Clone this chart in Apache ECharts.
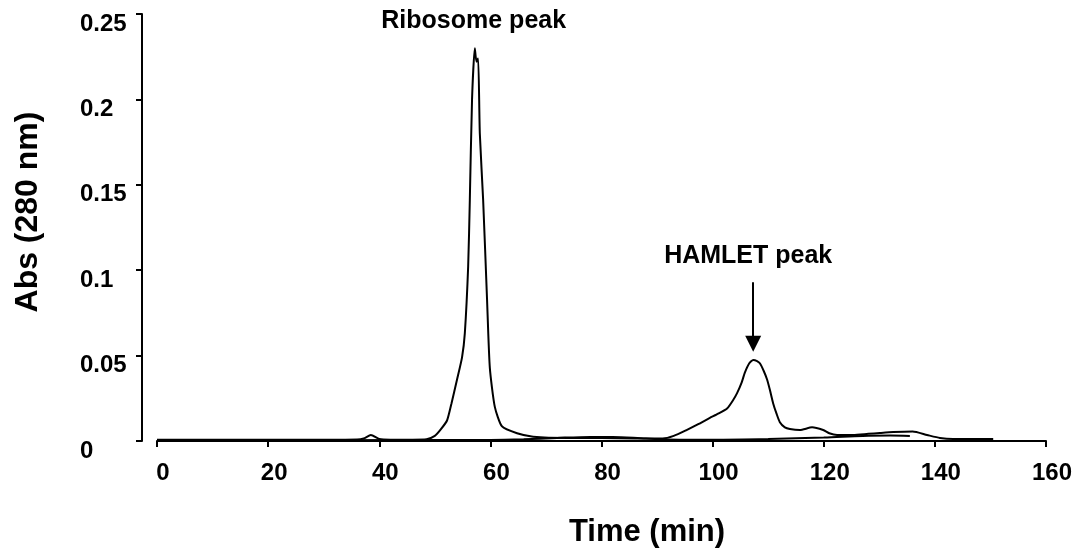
<!DOCTYPE html>
<html>
<head>
<meta charset="utf-8">
<script src="https://cdn.jsdelivr.net/npm/echarts@6/dist/echarts.min.js"></script>
<style>html,body{margin:0;padding:0;background:#fff}#c{width:1084px;height:556px}</style>
</head>
<body>
<div id="c"></div>
<script>
// Main trace (time in min, absorbance at 280 nm)
var timeA = [0,10,20,30,36,37.2,38.5,40,42,46,48.5,50,51,52.2,53,54,54.9,55.4,56,56.3,56.7,57.2,57.5,57.8,58.1,58.7,59.4,59.9,60.8,62.1,64.8,67.7,74,80,86,91,93,95.3,97.5,99.5,101,102.6,103.7,104.4,105.2,105.8,106.6,107.3,108,108.5,109.2,109.8,110.3,110.9,111.5,112.1,113,113.9,115.7,117.9,119.9,121,122.4,125.3,128,130.1,132.5,136,138.6,140.9,143.3,150.5];
var absA = [0.0008,0.0008,0.0008,0.0008,0.0009,0.0015,0.0035,0.0012,0.0008,0.0008,0.001,0.003,0.0065,0.012,0.022,0.036,0.049,0.063,0.102,0.141,0.2,0.230,0.222,0.224,0.18,0.141,0.083,0.043,0.020,0.0085,0.0045,0.0025,0.0018,0.0018,0.0015,0.0015,0.003,0.0064,0.010,0.0135,0.016,0.019,0.024,0.028,0.034,0.040,0.0455,0.0474,0.0468,0.0455,0.041,0.036,0.030,0.022,0.016,0.011,0.008,0.007,0.0064,0.008,0.0064,0.0045,0.0035,0.0035,0.0042,0.0047,0.0052,0.0055,0.0035,0.0018,0.0012,0.0012];
// Second (baseline) trace
var timeB = [0,30,60,66,72,78,82,88,94,100,110,120,127,132,135.5];
var absB = [0.0005,0.0005,0.0006,0.001,0.0018,0.0024,0.0024,0.0014,0.0008,0.0008,0.0012,0.002,0.003,0.0032,0.003];
// Annotations
var ribosomeLabel = {text: 'Ribosome peak', x: 57, y: 0.246};
var hamletLabel = {text: 'HAMLET peak', x: 106.4, y: 0.1083};
var hamletArrow = {x: 107.3, y0: 0.093, y1: 0.057};
var xTicks = {min: 0, max: 160, interval: 20};
var yTicks = {min: 0, max: 0.25, interval: 0.05};

var FONT = '"Liberation Sans", Arial, Helvetica, sans-serif';
function pairs(xs, ys){ return xs.map(function(x,i){ return [x, ys[i]]; }); }

var chart = echarts.init(document.getElementById('c'));
chart.setOption({
  animation: false,
  backgroundColor: '#fff',
  grid: {left: 157, right: 38, top: 14, bottom: 115},
  xAxis: {
    type: 'value', min: xTicks.min, max: xTicks.max, interval: xTicks.interval,
    axisLine: {show: true, onZero: false, lineStyle: {color: '#000', width: 2}},
    axisTick: {show: true, length: 6, lineStyle: {color: '#000', width: 2}},
    splitLine: {show: false},
    axisLabel: {color: '#000', fontFamily: FONT, fontWeight: 'bold', fontSize: 24, margin: 20, padding: [0,0,0,12]}
  },
  yAxis: {
    type: 'value', min: yTicks.min, max: yTicks.max, interval: yTicks.interval,
    offset: 15,
    axisLine: {show: true, onZero: false, lineStyle: {color: '#000', width: 2}},
    axisTick: {show: true, length: 6, lineStyle: {color: '#000', width: 2}},
    splitLine: {show: false},
    axisLabel: {color: '#000', fontFamily: FONT, fontWeight: 'bold', fontSize: 24, margin: 62, align: 'left', verticalAlign: 'top', padding: [-2,0,0,0]}
  },
  graphic: [
    {type: 'text', x: 647, y: 532, style: {text: 'Time (min)', fill: '#000', font: 'bold 31px ' + FONT, textAlign: 'center', textVerticalAlign: 'middle'}},
    {type: 'text', x: 28, y: 212, rotation: Math.PI/2, style: {text: 'Abs (280 nm)', fill: '#000', font: 'bold 32px ' + FONT, textAlign: 'center', textVerticalAlign: 'middle'}}
  ],
  series: [
    {
      type: 'line', data: pairs(timeB, absB), showSymbol: false, smooth: 0.3,
      lineStyle: {color: '#000', width: 2}, z: 2
    },
    {
      type: 'line', data: pairs(timeA, absA), showSymbol: false, smooth: 0.2,
      lineStyle: {color: '#000', width: 2}, z: 3,
      markPoint: {
        symbol: 'circle', symbolSize: 0, silent: true,
        label: {show: true, position: 'inside', color: '#000', fontFamily: FONT, fontWeight: 'bold', fontSize: 25},
        data: [
          {coord: [ribosomeLabel.x, ribosomeLabel.y], value: ribosomeLabel.text, label: {formatter: ribosomeLabel.text}},
          {coord: [hamletLabel.x, hamletLabel.y], value: hamletLabel.text, label: {formatter: hamletLabel.text}}
        ]
      },
      markLine: {
        silent: true, symbol: ['none', 'triangle'], symbolSize: [16, 16],
        label: {show: false},
        lineStyle: {color: '#000', width: 2, type: 'solid'},
        emphasis: {disabled: true},
        data: [[{coord: [hamletArrow.x, hamletArrow.y0]}, {coord: [hamletArrow.x, hamletArrow.y1]}]]
      }
    }
  ]
});
</script>
</body>
</html>
